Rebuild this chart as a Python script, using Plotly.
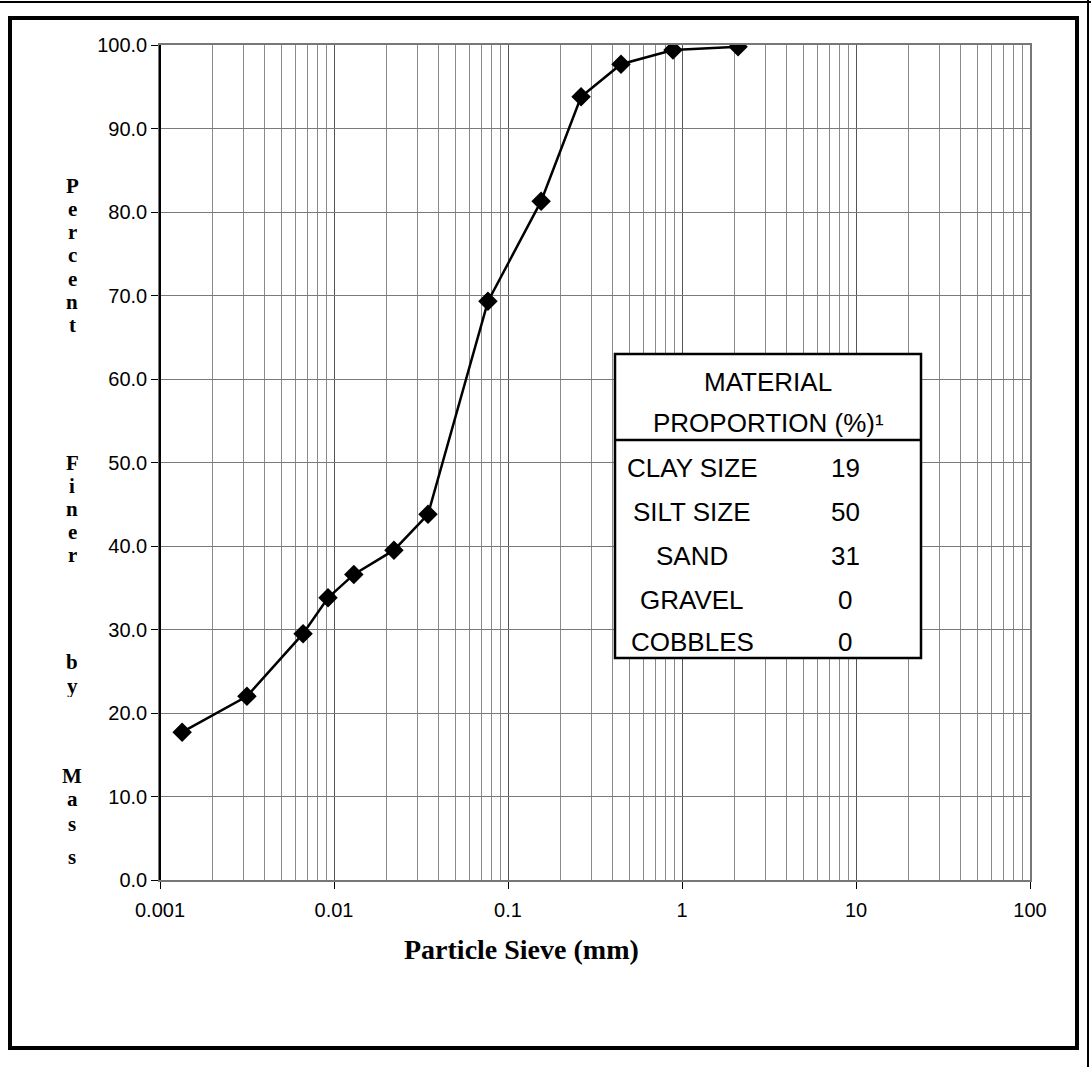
import plotly.graph_objects as go

# ---- data ----
sieve_mm = [0.00134, 0.00316, 0.00664, 0.00924, 0.0130, 0.0221, 0.0347,
            0.0767, 0.155, 0.263, 0.446, 0.888, 2.10]
percent_finer = [17.7, 22.0, 29.5, 33.8, 36.6, 39.5, 43.8,
                 69.3, 81.3, 93.8, 97.7, 99.4, 99.8]

x_tickvals = [0.001, 0.01, 0.1, 1, 10, 100]
x_ticktext = ["0.001", "0.01", "0.1", "1", "10", "100"]

table_header = ["MATERIAL", "PROPORTION (%)¹"]
materials = ["CLAY SIZE", "SILT SIZE", "SAND", "GRAVEL", "COBBLES"]
proportions = [19, 50, 31, 0, 0]

y_title_letters = list("PercentFinerbyMass")
y_title_px = [186, 209, 232, 255, 279, 302, 325, 463, 486, 509, 532, 555,
              662, 686, 776, 799, 824, 857]

# ---- layout geometry (pixels) ----
W, H = 1091, 1067
L, R, T, B = 160, 1030, 45, 880


def px_x(px):
    return (px - L) / (R - L)


def px_y(py):
    return (B - py) / (B - T)


fig = go.Figure()
fig.add_trace(go.Scatter(
    x=sieve_mm, y=percent_finer, mode="lines+markers",
    line=dict(color="black", width=2.5),
    marker=dict(symbol="diamond", size=15, color="black"),
    showlegend=False, hoverinfo="x+y"))

tick_font = dict(family="Arial, Liberation Sans, sans-serif", size=20, color="black")

fig.update_layout(
    width=W, height=H,
    margin=dict(l=L, r=W - R, t=T, b=H - B),
    paper_bgcolor="white", plot_bgcolor="white",
    showlegend=False,
    xaxis=dict(
        type="log", range=[-3, 2],
        tickvals=x_tickvals, ticktext=x_ticktext,
        tickfont=tick_font, ticks="outside", ticklen=7, tickcolor="black",
        ticklabelstandoff=4,
        showgrid=True, gridcolor="#555", gridwidth=1,
        minor=dict(dtick="D1", showgrid=True, gridcolor="#8a8a8a", gridwidth=1, ticks=""),
        showline=True, linecolor="#777", linewidth=1.5, mirror=True,
        zeroline=False,
    ),
    yaxis=dict(
        range=[0, 100], dtick=10, tickformat=".1f",
        tickfont=tick_font, ticks="outside", ticklen=7, tickcolor="black",
        showgrid=True, gridcolor="#7a7a7a", gridwidth=1,
        showline=True, linecolor="#777", linewidth=1.5, mirror=True,
        zeroline=False,
    ),
)

shapes = []
# left axis solid black line
shapes.append(dict(type="line", xref="paper", yref="paper", x0=0, x1=0, y0=0, y1=1,
                   line=dict(color="black", width=2)))
# outer border
shapes.append(dict(type="rect", xref="paper", yref="paper",
                   x0=px_x(10), x1=px_x(1077), y0=px_y(1048), y1=px_y(18),
                   line=dict(color="black", width=4), layer="above"))
# page edge lines
shapes.append(dict(type="line", xref="paper", yref="paper",
                   x0=px_x(0), x1=px_x(1091), y0=px_y(2), y1=px_y(2),
                   line=dict(color="black", width=2)))
shapes.append(dict(type="line", xref="paper", yref="paper",
                   x0=px_x(1088), x1=px_x(1088), y0=px_y(1067), y1=px_y(0),
                   line=dict(color="black", width=2)))
# table box
shapes.append(dict(type="rect", xref="paper", yref="paper",
                   x0=px_x(615), x1=px_x(921), y0=px_y(658), y1=px_y(354),
                   fillcolor="white", line=dict(color="black", width=2.5), layer="above"))
shapes.append(dict(type="line", xref="paper", yref="paper",
                   x0=px_x(615), x1=px_x(921), y0=px_y(440), y1=px_y(440),
                   line=dict(color="black", width=2.5), layer="above"))
fig.update_layout(shapes=shapes)

annotations = []
table_font = dict(family="Arial, Liberation Sans, sans-serif", size=26, color="black")
header_px = [382, 423]
for txt, py in zip(table_header, header_px):
    annotations.append(dict(text=txt, x=px_x(768), y=px_y(py), xref="paper", yref="paper",
                            showarrow=False, font=table_font, xanchor="center", yanchor="middle"))
row_px = [468, 512, 556, 600, 642]
for name, val, py in zip(materials, proportions, row_px):
    annotations.append(dict(text=name, x=px_x(692), y=px_y(py), xref="paper", yref="paper",
                            showarrow=False, font=table_font, xanchor="center", yanchor="middle"))
    annotations.append(dict(text=str(val), x=px_x(845), y=px_y(py), xref="paper", yref="paper",
                            showarrow=False, font=table_font, xanchor="center", yanchor="middle"))

serif_bold = dict(family="Liberation Serif, Times New Roman, serif", color="black")
annotations.append(dict(text="<b>Particle Sieve (mm)</b>", x=px_x(521), y=px_y(949),
                        xref="paper", yref="paper", showarrow=False,
                        font=dict(size=28, **serif_bold), xanchor="center", yanchor="middle"))
for ch, py in zip(y_title_letters, y_title_px):
    annotations.append(dict(text="<b>%s</b>" % ch, x=px_x(72), y=px_y(py),
                            xref="paper", yref="paper", showarrow=False,
                            height=22, borderpad=0, valign="middle",
                            font=dict(size=21, **serif_bold), xanchor="center", yanchor="middle"))
fig.update_layout(annotations=annotations)

fig.write_html("out.html", config={"displayModeBar": False},
               post_script="document.body.style.margin='0';document.body.style.overflow='hidden';")
